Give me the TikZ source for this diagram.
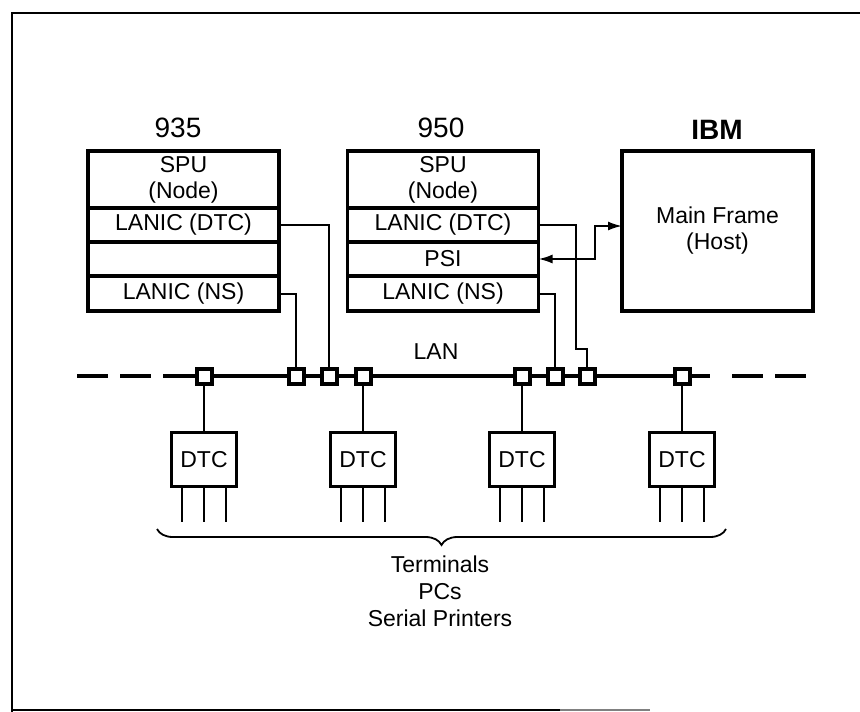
\documentclass[tikz,border=0pt]{standalone}
\usepackage{fontspec}
\setmainfont{Liberation Sans}
\usepackage{tikz}
\usetikzlibrary{arrows.meta,positioning,decorations.pathreplacing}

\tikzset{
  cell/.style={draw,line width=3.2pt,outer sep=0pt,inner sep=0pt,
               minimum width=191pt,align=center,
               font=\fontsize{23}{26}\selectfont},
  tap/.style={draw,line width=4pt,fill=white,minimum size=15pt,inner sep=0pt},
  dtcbox/.style={draw,line width=3.4pt,minimum width=65pt,minimum height=54pt,
                 inner sep=0pt,font=\fontsize{23}{26}\selectfont},
  wire/.style={line width=2pt},
  lan/.style={line width=4pt},
  tag/.style={font=\fontsize{28}{30}\selectfont},
}

\begin{document}
\begin{tikzpicture}[x=1pt,y=-1pt]
  \useasboundingbox (0,0) rectangle (860,712);

  % frame (cut off at right and bottom)
  \draw[line width=2.6pt] (860,13) -- (12,13) -- (12,712);
  \draw[line width=2.6pt] (12,710) -- (560,710);
  \draw[line width=2.6pt,gray] (560,710) -- (650,710);

  % 935
  \node[tag] (lbA) at (178,128) {935};
  \node[cell,minimum height=57pt] (spuA) at (183.5,179.5) {SPU\\(Node)};
  \node[cell,minimum height=34pt,below=0pt of spuA] (dtcA) {LANIC (DTC)};
  \node[cell,minimum height=34pt,below=0pt of dtcA] (gapA) {};
  \node[cell,minimum height=35pt,below=0pt of gapA] (nsA) {LANIC (NS)};

  % 950
  \node[tag] (lbB) at (441,128) {950};
  \node[cell,minimum height=57pt] (spuB) at (443,179.5) {SPU\\(Node)};
  \node[cell,minimum height=34pt,below=0pt of spuB] (dtcB) {LANIC (DTC)};
  \node[cell,minimum height=34pt,below=0pt of dtcB] (psiB) {PSI};
  \node[cell,minimum height=35pt,below=0pt of psiB] (nsB) {LANIC (NS)};

  % IBM
  \node[tag,font=\fontsize{28}{30}\selectfont\bfseries] (lbC) at (717,130) {IBM};
  \node[cell,minimum height=160pt] (host) at (717.5,231) {Main Frame\\(Host)};

  % LAN
  \coordinate (lanW) at (77,376);
  \coordinate (lanS) at (163,376);
  \coordinate (lanT) at (710,376);
  \coordinate (lanR) at (732,376);
  \coordinate (lanE) at (806,376);
  \draw[lan,dash pattern=on 31pt off 12pt] (lanW) -- (lanS);
  \draw[lan] (lanS) -- (lanT);
  \draw[lan,dash pattern=on 31pt off 12pt] (lanR) -- (lanE);
  \node[font=\fontsize{23}{26}\selectfont] (lanlbl) at (436,352) {LAN};

  \foreach \n/\x in {tA/204,tB/296,tC/329,tD/363,tE/522,tF/555,tG/587,tH/682}
    \node[tap] (\n) at (\x,376) {};

  % links to the LAN
  \draw[wire] (dtcA.east) -| (tC.north);
  \draw[wire] (nsA.east) -| (tB.north);
  \draw[wire] (nsB.east) -| (tF.north);
  \coordinate (kink) at (576,349);
  \draw[wire] (dtcB.east) -| (kink) -| (tG.north);
  \draw[wire,{Latex[length=14pt,width=9pt]}-{Latex[length=14pt,width=9pt]}]
    (psiB.east) -- ++(56,0) |- ([yshift=5pt]host.west);

  % DTCs
  \foreach \n/\tp in {dA/tA,dB/tD,dC/tE,dD/tH}{
    \node[dtcbox,below=45pt of \tp] (\n) {DTC};
    \draw[wire] (\tp) -- (\n);
    \foreach \dx in {-22,0,22}
      \draw[wire] ([xshift=\dx pt]\n.south) -- ++(0,34);
  }

  \draw[line width=1.8pt,decorate,decoration={brace,mirror,amplitude=16pt}]
    (157,529) -- (726,529);
  \node[align=center,font=\fontsize{23}{27}\selectfont] (devices) at (440,591)
    {Terminals\\PCs\\Serial Printers};
\end{tikzpicture}
\end{document}
